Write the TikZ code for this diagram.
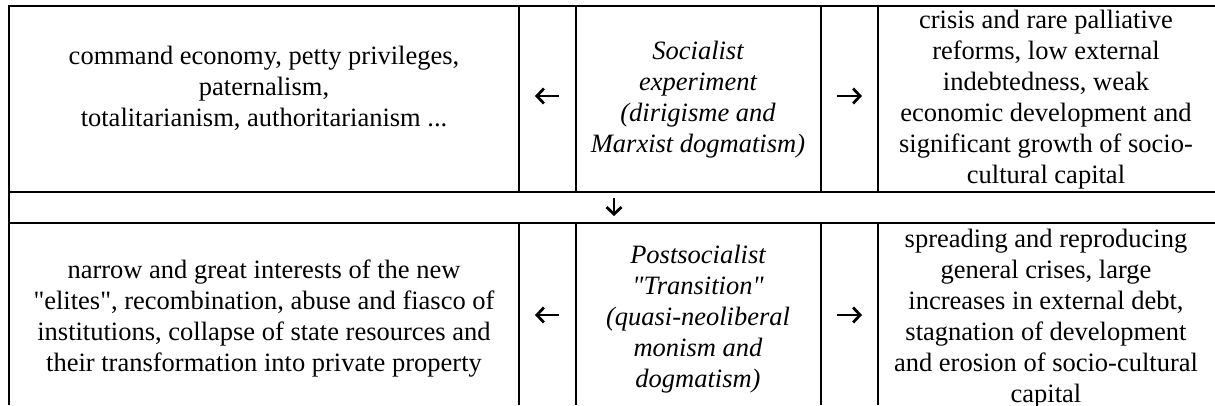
\documentclass[tikz,border=0pt]{standalone}
\usepackage{fontspec}
\setmainfont{Liberation Serif}[Ligatures=TeXOff]
\usetikzlibrary{arrows.meta}
\begin{document}
\begin{tikzpicture}[x=1pt,y=-1pt,
  rule/.style={line width=2pt},
  celltext/.style={align=center, inner sep=0pt, font=\fontsize{26.5}{31}\selectfont},
  celltextit/.style={celltext, font=\fontsize{26.5}{31}\selectfont\itshape},
  arr/.style={line width=2.8pt, -{Straight Barb[length=7pt,width=15pt]}}]
\useasboundingbox (0,0) rectangle (1215,405);
% grid
\draw[rule] (8,6) -- (1215,6);
\draw[rule] (8,192) -- (1215,192);
\draw[rule] (8,223) -- (1215,223);
\draw[rule] (9,5) -- (9,405);
\foreach \x in {519,576,821,878} {
  \draw[rule] (\x,6) -- (\x,192);
  \draw[rule] (\x,223) -- (\x,405);
}
% row 1
\node[celltext] (a1) at (264,88) {command economy, petty privileges,\\ paternalism,\\ totalitarianism, authoritarianism ...};
\node[celltextit] (b1) at (698,100) {Socialist\\ experiment\\ (dirigisme and\\ Marxist dogmatism)};
\node[celltext] (c1) at (1046,100) {crisis and rare palliative\\ reforms, low external\\ indebtedness, weak\\ economic development and\\ significant growth of socio-\\ cultural capital};
% row 2
\node[celltext] (a2) at (264,319) {narrow and great interests of the new\\ "elites", recombination, abuse and fiasco of\\ institutions, collapse of state resources and\\ their transformation into private property};
\node[celltextit] (b2) at (698,319) {Postsocialist\\ "Transition"\\ (quasi-neoliberal\\ monism and\\ dogmatism)};
\node[celltext] (c2) at (1046,319) {spreading and reproducing\\ general crises, large\\ increases in external debt,\\ stagnation of development\\ and erosion of socio-cultural\\ capital};
% arrows
\coordinate (l1s) at (559,96); \coordinate (l1e) at (535,96);
\coordinate (r1s) at (837,96); \coordinate (r1e) at (862,96);
\coordinate (ds) at (614,198); \coordinate (de) at (614,216);
\coordinate (l2s) at (559,315); \coordinate (l2e) at (535,315);
\coordinate (r2s) at (837,315); \coordinate (r2e) at (862,315);
\draw[arr] (l1s) -- (l1e);
\draw[arr] (r1s) -- (r1e);
\draw[arr] (ds) -- (de);
\draw[arr] (l2s) -- (l2e);
\draw[arr] (r2s) -- (r2e);
\end{tikzpicture}
\end{document}
